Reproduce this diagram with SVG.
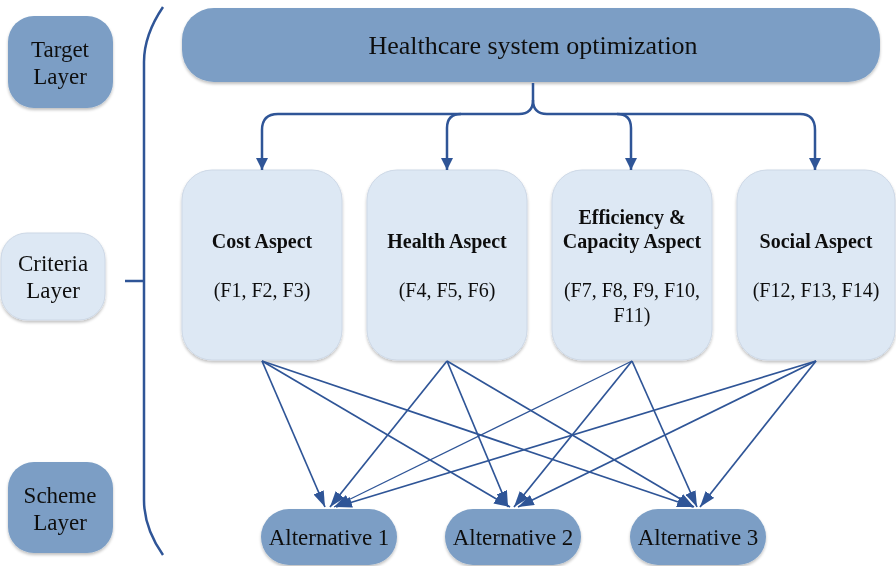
<svg xmlns="http://www.w3.org/2000/svg" width="896" height="566" viewBox="0 0 896 566">
<defs>
<filter id="sh" x="-10%" y="-10%" width="120%" height="130%">
<feGaussianBlur in="SourceAlpha" stdDeviation="1.5"/>
<feOffset dx="0" dy="1.5" result="b"/>
<feComponentTransfer><feFuncA type="linear" slope="0.25"/></feComponentTransfer>
<feMerge><feMergeNode/><feMergeNode in="SourceGraphic"/></feMerge>
</filter>
<marker id="big" markerWidth="12" markerHeight="12" refX="12" refY="6" orient="auto" markerUnits="userSpaceOnUse" viewBox="0 0 12 12">
<path d="M0,0 L12,6 L0,12 Z" fill="#2f5597"/>
</marker>
<marker id="sm" markerWidth="16" markerHeight="11" refX="16" refY="5.5" orient="auto" markerUnits="userSpaceOnUse" viewBox="0 0 16 11">
<path d="M0,0 L16,5.5 L0,11 Z" fill="#2f5597"/>
</marker>
</defs>
<style>
.dark{fill:#7b9ec5;}
.light{fill:#dde8f4;stroke:#cdd8e6;stroke-width:1;}
.lbl{font-family:"Liberation Serif",serif;font-size:23px;fill:#111;text-anchor:middle;}
.big{font-size:26px;}
.hd{font-family:"Liberation Serif",serif;font-size:20px;font-weight:bold;fill:#111;text-anchor:middle;}
.fx{font-family:"Liberation Serif",serif;font-size:20px;fill:#111;text-anchor:middle;}
.thick{fill:none;stroke:#2f5597;stroke-width:2.5;}
.thin{fill:none;stroke:#2f5597;stroke-width:1.7;}
</style>
<rect width="896" height="566" fill="#fff"/>

<g id="target-layer" filter="url(#sh)">
<rect class="dark" x="8" y="16" width="105" height="92" rx="26"/>
<text class="lbl" x="60" y="57">Target</text>
<text class="lbl" x="60" y="84">Layer</text>
</g>
<g id="criteria-layer" filter="url(#sh)">
<rect class="light" x="1" y="233" width="104" height="87" rx="26"/>
<text class="lbl" x="53" y="271">Criteria</text>
<text class="lbl" x="53" y="298">Layer</text>
</g>
<g id="scheme-layer" filter="url(#sh)">
<rect class="dark" x="8" y="462" width="105" height="91" rx="26"/>
<text class="lbl" x="60" y="503">Scheme</text>
<text class="lbl" x="60" y="530">Layer</text>
</g>

<g id="bracket">
<path class="thick" d="M163,7 Q144,35 144,62 V500 Q144,528 163,555" stroke-width="2.2"/>
<path class="thick" d="M125,281 H144" stroke-width="3"/>
</g>

<g id="goal" filter="url(#sh)">
<rect class="dark" x="182" y="8" width="698" height="74" rx="32"/>
<text class="lbl big" x="533" y="54">Healthcare system optimization</text>
</g>

<g id="cost" filter="url(#sh)">
<rect class="light" x="182" y="170" width="160" height="190" rx="30"/>
<text class="hd" x="262" y="248">Cost Aspect</text>
<text class="fx" x="262" y="297">(F1, F2, F3)</text>
</g>
<g id="health" filter="url(#sh)">
<rect class="light" x="367" y="170" width="160" height="190" rx="30"/>
<text class="hd" x="447" y="248">Health Aspect</text>
<text class="fx" x="447" y="297">(F4, F5, F6)</text>
</g>
<g id="efficiency" filter="url(#sh)">
<rect class="light" x="552" y="170" width="160" height="190" rx="30"/>
<text class="hd" x="632" y="224">Efficiency &amp;</text>
<text class="hd" x="632" y="248">Capacity Aspect</text>
<text class="fx" x="632" y="297">(F7, F8, F9, F10,</text>
<text class="fx" x="632" y="322">F11)</text>
</g>
<g id="social" filter="url(#sh)">
<rect class="light" x="737" y="170" width="158" height="190" rx="30"/>
<text class="hd" x="816" y="248">Social Aspect</text>
<text class="fx" x="816" y="297">(F12, F13, F14)</text>
</g>

<g id="alt1" filter="url(#sh)">
<rect class="dark" x="261" y="509" width="136" height="56" rx="28"/>
<text class="lbl" x="329" y="545">Alternative 1</text>
</g>
<g id="alt2" filter="url(#sh)">
<rect class="dark" x="445" y="509" width="136" height="56" rx="28"/>
<text class="lbl" x="513" y="545">Alternative 2</text>
</g>
<g id="alt3" filter="url(#sh)">
<rect class="dark" x="630" y="509" width="136" height="56" rx="28"/>
<text class="lbl" x="698" y="545">Alternative 3</text>
</g>

<g id="connectors">
<path class="thick" d="M533,83 V100 Q533,114 519,114 H278 Q262,114 262,130 V170" marker-end="url(#big)"/>
<path class="thick" d="M461,114 Q447,114 447,128 V170" marker-end="url(#big)"/>
<path class="thick" d="M533,100 Q533,114 547,114 H617 Q631,114 631,128 V170" marker-end="url(#big)"/>
<path class="thick" d="M617,114 H800 Q815,114 815,130 V170" marker-end="url(#big)"/>

<path class="thin" d="M262,361 L325,507" marker-end="url(#sm)"/>
<path class="thin" d="M262,361 L510,507" marker-end="url(#sm)"/>
<path class="thin" d="M262,361 L693,507" marker-end="url(#sm)"/>
<path class="thin" d="M447,361 L330,507" marker-end="url(#sm)"/>
<path class="thin" d="M447,361 L508,507" marker-end="url(#sm)"/>
<path class="thin" d="M447,361 L694,507" marker-end="url(#sm)"/>
<path class="thin" d="M632,361 L334,507" marker-end="url(#sm)" style="stroke-width:1.2"/>
<path class="thin" d="M632,361 L514,507" marker-end="url(#sm)"/>
<path class="thin" d="M632,361 L697,507" marker-end="url(#sm)"/>
<path class="thin" d="M816,361 L336,507" marker-end="url(#sm)"/>
<path class="thin" d="M816,361 L518,507" marker-end="url(#sm)"/>
<path class="thin" d="M816,361 L700,507" marker-end="url(#sm)"/>
</g>
</svg>
